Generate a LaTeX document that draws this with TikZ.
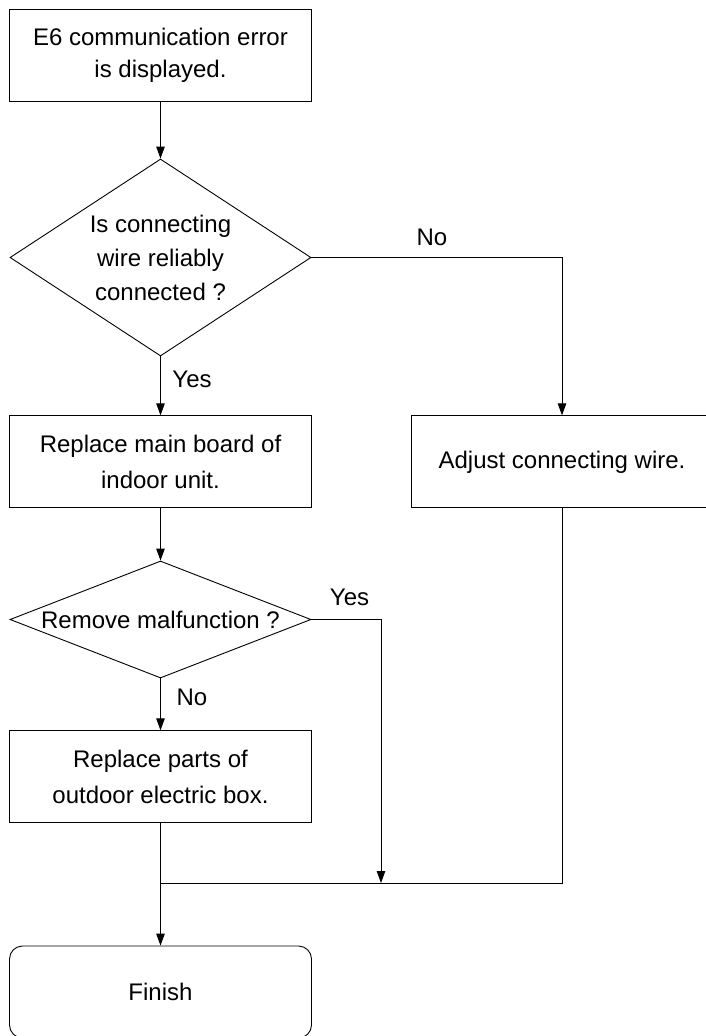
\documentclass[tikz,border=0pt]{standalone}
\usepackage{fontspec}
\setmainfont{Liberation Sans}
\usetikzlibrary{shapes.geometric,arrows.meta}
\tikzset{
  base/.style={draw=black, line width=0.9pt, inner sep=0pt, align=center,
    font=\fontsize{24}{36}\selectfont},
  procbox/.style={base, rectangle, minimum width=302pt, minimum height=92pt},
  endbox/.style={base, rectangle, rounded corners=13pt, minimum width=302pt, minimum height=92pt},
  decision/.style={base, diamond, minimum width=301pt},
  lbl/.style={inner sep=0pt, font=\fontsize{24}{28}\selectfont},
  flow/.style={line width=0.9pt, -{Triangle[length=12pt,width=8.5pt]}},
  plain/.style={line width=0.9pt}
}
\begin{document}
\begin{tikzpicture}[x=1pt,y=-1pt]
\useasboundingbox (0,0) rectangle (705,1036);
\node[procbox, font=\fontsize{24}{32}\selectfont] (b1) at (160.5,55) {E6 communication error\\is displayed.};
\node[decision, aspect=1.528, minimum height=197pt, font=\fontsize{24}{34}\selectfont] (d1) at (160.5,257.5) {Is connecting\\wire reliably\\connected ?};
\node[procbox] (b2) at (160.5,461.8) {Replace main board of\\indoor unit.};
\node[procbox] (adj) at (562,461.8) {Adjust connecting wire.};
\node[decision, aspect=2.573, minimum height=117pt] (d2) at (160.5,619.5) {Remove malfunction ?};
\node[procbox] (b3) at (160.5,776.8) {Replace parts of\\outdoor electric box.};
\node[endbox] (fin) at (160.5,992) {Finish};
\coordinate (c1) at (562,257.5);
\coordinate (c2) at (381,619.5);
\coordinate (j2) at (381,883);
\coordinate (c3) at (562,883);
\coordinate (j1) at (160.5,883);
\draw[flow] (b1.south) -- (d1.north);
\draw[flow] (d1.south) -- (b2.north);
\draw[flow] (d1.east) -- (c1) -- (adj.north);
\draw[flow] (b2.south) -- (d2.north);
\draw[flow] (d2.south) -- (b3.north);
\draw[flow] (d2.east) -- (c2) -- (j2);
\draw[plain] (adj.south) -- (c3) -- (j1);
\draw[flow] (b3.south) -- (fin.north);
\node[lbl] (lno1) at (432,237.5) {No};
\node[lbl] (lyes1) at (192,379.5) {Yes};
\node[lbl] (lyes2) at (349.5,597) {Yes};
\node[lbl] (lno2) at (192,697.5) {No};
\end{tikzpicture}
\end{document}
